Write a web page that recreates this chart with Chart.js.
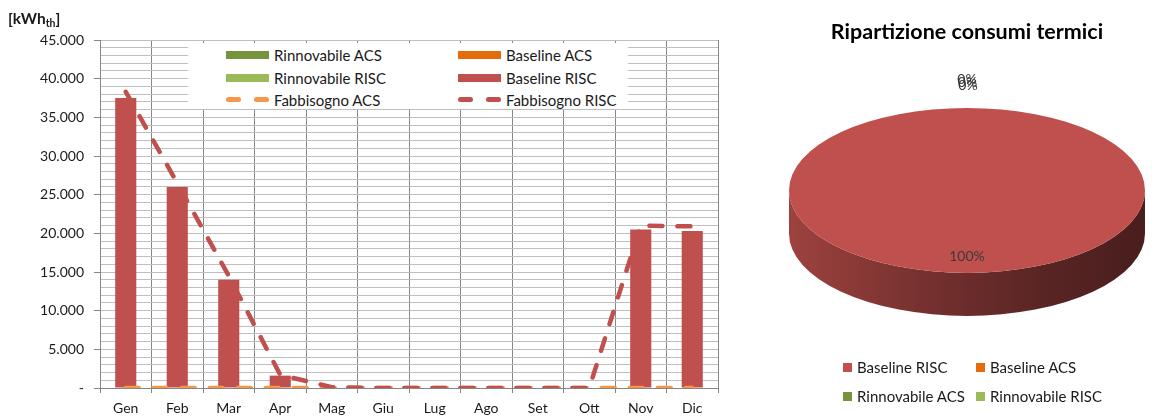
<!DOCTYPE html>
<html lang="it">
<head>
<meta charset="utf-8">
<title>Consumi termici mensili</title>
<script src="https://cdn.jsdelivr.net/npm/chart.js@4/dist/chart.umd.min.js"></script>
<style>
  html, body { margin: 0; padding: 0; background: #fff; }
  body { width: 1161px; height: 419px; overflow: hidden; font-family: Lato, "Liberation Sans", sans-serif; color: #1a1a1a; }
  #wrap { position: relative; width: 1161px; height: 419px; }
  canvas { position: absolute; top: 0; }
  #bars { left: 0; }
  #pie { left: 740px; }
  #unit { position: absolute; left: 8px; top: 9px; font-weight: bold; font-size: 15.5px; }
  #unit sub { font-size: 10.5px; vertical-align: -3px; line-height: 0; }
  .legend { position: absolute; }
  #barLegend { left: 188px; top: 43px; width: 440px; height: 66px; background: #fff; }
  #pieLegend { left: 0; top: 0; }
  .item { position: absolute; height: 18px; line-height: 18px; display: flex; align-items: center; white-space: nowrap; font-size: 15px; }
  .swatch { display: inline-block; }
  .dash { position: relative; display: inline-block; width: 43px; height: 5px; }
  .dash i { position: absolute; top: 0; width: 15px; height: 5px; border-radius: 2.5px; }
</style>
</head>
<body>
<div id="wrap">
  <canvas id="bars" width="740" height="419"></canvas>
  <div id="unit">[kWh<sub>th</sub>]</div>
  <div id="barLegend" class="legend"></div>
  <canvas id="pie" width="421" height="419"></canvas>
  <div id="pieLegend" class="legend"></div>
</div>
<script>
// Monthly thermal consumption (kWh_th)
const MONTHS = ['Gen', 'Feb', 'Mar', 'Apr', 'Mag', 'Giu', 'Lug', 'Ago', 'Set', 'Ott', 'Nov', 'Dic'];
const RINNOVABILE_ACS  = [0, 0, 0, 0, 0, 0, 0, 0, 0, 0, 0, 0];
const BASELINE_ACS     = [0, 0, 0, 0, 0, 0, 0, 0, 0, 0, 0, 0];
const RINNOVABILE_RISC = [0, 0, 0, 0, 0, 0, 0, 0, 0, 0, 0, 0];
const BASELINE_RISC    = [37500, 26000, 14000, 1600, 0, 0, 0, 0, 0, 0, 20500, 20300];
const FABBISOGNO_ACS   = [0, 0, 0, 0, 0, 0, 0, 0, 0, 0, 0, 0];
const FABBISOGNO_RISC  = [38300, 26500, 14500, 1700, 100, 0, 0, 0, 0, 0, 21000, 20900];

// Value axis: labelled ticks and the finer gridline step
const Y_MAJOR_TICKS = [0, 5000, 10000, 15000, 20000, 25000, 30000, 35000, 40000, 45000];
const Y_MINOR_STEP = 1000;

// Pie: share of yearly consumption per component
const PIE_LABELS = ['Baseline RISC', 'Baseline ACS', 'Rinnovabile ACS', 'Rinnovabile RISC'];
const total = arr => arr.reduce((s, v) => s + v, 0);
const PIE_VALUES = [total(BASELINE_RISC), total(BASELINE_ACS), total(RINNOVABILE_ACS), total(RINNOVABILE_RISC)];

const COLORS = {
  rinnAcs: '#77933c',
  baseAcs: '#e46c0a',
  rinnRisc: '#9bbb59',
  baseRisc: '#c0504d',
  fabAcs: '#f79646',
  fabRisc: '#c0504d'
};
const PIE_COLORS = [COLORS.baseRisc, COLORS.baseAcs, COLORS.rinnAcs, COLORS.rinnRisc];

Chart.defaults.font.family = 'Lato, "Liberation Sans", sans-serif';
Chart.defaults.color = '#1a1a1a';

const AXIS_GREY = '#868686';
const GRID_GREY = '#bfbfbf';
const fmtThousands = v => String(v).replace(/\B(?=(\d{3})+(?!\d))/g, '.');

const dashedLine = (label, data, color, stack, order) => ({
  type: 'line', label, data, stack, order,
  borderColor: color, backgroundColor: color,
  borderWidth: 4.5, borderDash: [13, 15], borderCapStyle: 'round', borderJoinStyle: 'round',
  pointRadius: 0, pointHoverRadius: 0, fill: false, tension: 0
});

const barChart = new Chart(document.getElementById('bars'), {
  type: 'bar',
  data: {
    labels: MONTHS,
    datasets: [
      { label: 'Rinnovabile ACS', data: RINNOVABILE_ACS, backgroundColor: COLORS.rinnAcs, stack: 'consumi', order: 2 },
      { label: 'Baseline ACS', data: BASELINE_ACS, backgroundColor: COLORS.baseAcs, stack: 'consumi', order: 2 },
      { label: 'Rinnovabile RISC', data: RINNOVABILE_RISC, backgroundColor: COLORS.rinnRisc, stack: 'consumi', order: 2 },
      { label: 'Baseline RISC', data: BASELINE_RISC, backgroundColor: COLORS.baseRisc, stack: 'consumi', order: 2 },
      dashedLine('Fabbisogno ACS', FABBISOGNO_ACS, COLORS.fabAcs, 'fab-acs', 1),
      dashedLine('Fabbisogno RISC', FABBISOGNO_RISC, COLORS.fabRisc, 'fab-risc', 0)
    ]
  },
  options: {
    responsive: false,
    animation: false,
    events: [],
    layout: { padding: { left: 0, right: 22, top: 40, bottom: 0 } },
    datasets: { bar: { barPercentage: 0.41, categoryPercentage: 1, borderWidth: 0 } },
    plugins: { legend: { display: false }, tooltip: { enabled: false } },
    scales: {
      x: {
        stacked: true,
        grid: { offset: true, color: AXIS_GREY, tickColor: AXIS_GREY, tickLength: 5, lineWidth: 1 },
        border: { color: AXIS_GREY },
        ticks: { font: { size: 14 }, padding: 7, maxRotation: 0 },
        afterFit(scale) { scale.height = 31; }
      },
      y: {
        stacked: true,
        min: Y_MAJOR_TICKS[0],
        max: Y_MAJOR_TICKS[Y_MAJOR_TICKS.length - 1],
        grid: {
          color: GRID_GREY,
          tickColor: c => (c.tick && Y_MAJOR_TICKS.includes(c.tick.value)) ? AXIS_GREY : 'rgba(0,0,0,0)',
          tickLength: 6
        },
        border: { color: AXIS_GREY },
        ticks: {
          stepSize: Y_MINOR_STEP,
          maxTicksLimit: 100,
          autoSkip: false,
          padding: 10,
          font: { size: 14 },
          callback: v => Y_MAJOR_TICKS.includes(v) ? (v === 0 ? '-' : fmtThousands(v)) : ''
        },
        afterFit(scale) { scale.width = 100; }
      }
    }
  }
});

// Legend laid out in two columns inside the plot, built from the datasets
(function buildBarLegend(chart, el) {
  const colLeft = [38, 270];
  const rowMid = [12, 34.5, 56.5];
  chart.data.datasets.forEach((ds, i) => {
    const item = document.createElement('div');
    item.className = 'item';
    item.style.left = colLeft[i % 2] + 'px';
    item.style.top = (rowMid[Math.floor(i / 2)] - 9) + 'px';
    const sample = document.createElement('span');
    if (ds.type === 'line') {
      sample.className = 'dash';
      [0, 28].forEach(x => {
        const seg = document.createElement('i');
        seg.style.left = x + 'px';
        seg.style.background = ds.borderColor;
        sample.appendChild(seg);
      });
    } else {
      sample.className = 'swatch';
      sample.style.width = '43px';
      sample.style.height = '8px';
      sample.style.background = ds.backgroundColor;
    }
    sample.style.marginRight = '5px';
    const text = document.createElement('span');
    text.textContent = ds.label;
    item.append(sample, text);
    el.appendChild(item);
  });
})(barChart, document.getElementById('barLegend'));

// Tilted pie with an extruded side wall, drawn around the library's arcs
function shade(hex, f) {
  const n = parseInt(hex.slice(1), 16);
  const r = Math.round(((n >> 16) & 255) * f);
  const g = Math.round(((n >> 8) & 255) * f);
  const b = Math.round((n & 255) * f);
  return `rgb(${r},${g},${b})`;
}

const pie3d = {
  id: 'pie3d',
  beforeDatasetsDraw(chart, args, opts) {
    const arcs = chart.getDatasetMeta(0).data;
    if (!arcs.length) return;
    const ctx = chart.ctx;
    const cx = arcs[0].x, cy0 = arcs[0].y, rx = arcs[0].outerRadius;
    const ry = rx * opts.tilt;
    const area = chart.chartArea;
    const cy = (area.top + area.bottom) / 2 - opts.depth / 2;
    chart.$pie3d = { cx, cy, rx, ry };
    arcs.forEach(arc => {
      const { startAngle, endAngle } = arc;
      if (endAngle - startAngle <= 0) return;
      const base = arc.options.backgroundColor;
      for (let k = -1; k <= 2; k++) {
        const a1 = Math.max(startAngle, 2 * Math.PI * k);
        const a2 = Math.min(endAngle, 2 * Math.PI * k + Math.PI);
        if (a2 <= a1) continue;
        const grad = ctx.createLinearGradient(cx - rx, 0, cx + rx, 0);
        grad.addColorStop(0, shade(base, 0.82));
        grad.addColorStop(0.4, shade(base, 0.6));
        grad.addColorStop(0.75, shade(base, 0.45));
        grad.addColorStop(1, shade(base, 0.38));
        ctx.beginPath();
        ctx.ellipse(cx, cy, rx, ry, 0, a1, a2);
        ctx.ellipse(cx, cy + opts.depth, rx, ry, 0, a2, a1, true);
        ctx.closePath();
        ctx.fillStyle = grad;
        ctx.fill();
      }
    });
    ctx.save();
    ctx.translate(cx, cy);
    ctx.scale(1, ry / rx);
    ctx.translate(-cx, -cy0);
  },
  afterDatasetsDraw(chart, args, opts) {
    const ctx = chart.ctx;
    ctx.restore();
    const p = chart.$pie3d;
    if (!p) return;
    const values = chart.data.datasets[0].data;
    const sum = values.reduce((s, v) => s + v, 0);
    const arcs = chart.getDatasetMeta(0).data;
    ctx.save();
    ctx.font = '14px Lato, "Liberation Sans", sans-serif';
    ctx.fillStyle = '#3a3a3a';
    ctx.textAlign = 'center';
    ctx.textBaseline = 'middle';
    let outside = 0;
    arcs.forEach((arc, i) => {
      const mid = (arc.startAngle + arc.endAngle) / 2;
      const text = Math.round(values[i] / sum * 100) + '%';
      let x, y;
      if (arc.endAngle - arc.startAngle > 0.5) {
        x = p.cx + 0.8 * p.rx * Math.cos(mid);
        y = p.cy + 0.8 * p.ry * Math.sin(mid);
      } else {
        x = p.cx + (p.rx + opts.labelGap) * Math.cos(mid) + outside * 0.5;
        y = p.cy + (p.ry + opts.labelGap) * Math.sin(mid) + (outside - 1) * 3;
        outside++;
      }
      ctx.fillText(text, x, y);
    });
    ctx.restore();
  }
};

const pieChart = new Chart(document.getElementById('pie'), {
  type: 'pie',
  data: {
    labels: PIE_LABELS,
    datasets: [{ data: PIE_VALUES, backgroundColor: PIE_COLORS, borderWidth: 0, radius: 178, clip: false }]
  },
  options: {
    responsive: false,
    animation: false,
    events: [],
    layout: { padding: { left: 33, right: 0, top: 0, bottom: 55 } },
    plugins: {
      legend: { display: false },
      tooltip: { enabled: false },
      title: {
        display: true,
        text: 'Ripartizione consumi termici',
        color: '#000',
        font: { size: 21.5, weight: 'bold' },
        padding: { top: 19, bottom: 15 }
      },
      pie3d: { tilt: 0.4635, depth: 43, labelGap: 25 }
    }
  },
  plugins: [pie3d]
});

// Pie legend, two columns under the pie
(function buildPieLegend(chart, el) {
  const colLeft = [843, 976];
  const rowMid = [367, 396];
  const ds = chart.data.datasets[0];
  chart.data.labels.forEach((label, i) => {
    const item = document.createElement('div');
    item.className = 'item';
    item.style.left = colLeft[i % 2] + 'px';
    item.style.top = (rowMid[Math.floor(i / 2)] - 9) + 'px';
    const box = document.createElement('span');
    box.className = 'swatch';
    box.style.width = '9px';
    box.style.height = '9px';
    box.style.marginRight = '5px';
    box.style.background = ds.backgroundColor[i];
    const text = document.createElement('span');
    text.textContent = label;
    item.append(box, text);
    el.appendChild(item);
  });
})(pieChart, document.getElementById('pieLegend'));
</script>
</body>
</html>
